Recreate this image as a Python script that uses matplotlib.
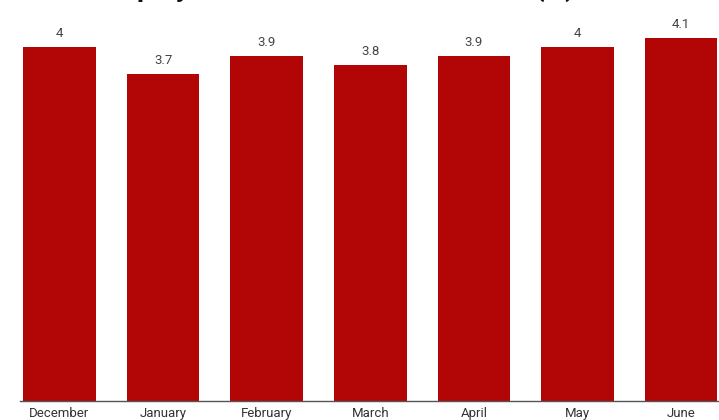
import matplotlib.pyplot as plt

# monthly unemployment rate
months = ["December", "January", "February", "March", "April", "May", "June"]
rates = [4.0, 3.7, 3.9, 3.8, 3.9, 4.0, 4.1]
rate_labels = ["4", "3.7", "3.9", "3.8", "3.9", "4", "4.1"]

plt.rcParams['font.family'] = ['Roboto', 'DejaVu Sans']

fig = plt.figure(figsize=(7.19, 4.2), dpi=100)
ax = fig.add_axes([20 / 719, 19 / 420, 699 / 719, 398 / 420])

x = range(len(months))
bars = ax.bar(x, rates, width=0.7, color='#b20606', zorder=2)

for b, lab in zip(bars, rate_labels):
    ax.annotate(lab, (b.get_x() + b.get_width() / 2, b.get_height()),
                xytext=(0, 5), textcoords='offset points',
                ha='center', va='bottom', fontsize=9.5, color='#444444')

ax.set_xlim(-0.381, 6.366)
ax.set_ylim(0, 4.5)
ax.set_xticks(list(x))
ax.set_xticklabels(months, fontsize=9.5, color='#333333')
ax.tick_params(axis='x', length=0, pad=4)
ax.set_yticks([])

for s in ['top', 'right', 'left']:
    ax.spines[s].set_visible(False)
ax.spines['bottom'].set_color('#555555')
ax.spines['bottom'].set_linewidth(1.0)

# headline sits mostly above the top edge
fig.text(22 / 719, 1 + 4 / 420, "US Unemployment Rate Since December (%)",
         ha='left', va='baseline', fontsize=20, fontweight='bold', color='#111111')

fig.savefig('out.png', dpi=100)
